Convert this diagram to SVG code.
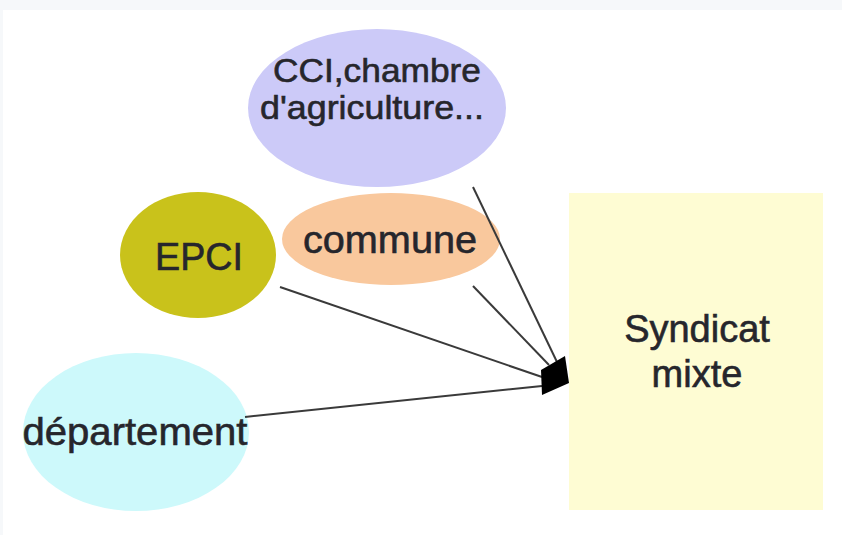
<svg xmlns="http://www.w3.org/2000/svg" width="842" height="535" viewBox="0 0 842 535">
<style>
text{font-family:"Liberation Sans",Arial,sans-serif;fill:#26262c;stroke:#26262c;stroke-width:0.6;text-anchor:middle}
.c{stroke:#3a3a3a;stroke-width:2;fill:none}
</style>
<rect x="0" y="0" width="842" height="535" fill="#ffffff"/>
<rect x="0" y="0" width="842" height="10" fill="#f6f8fa"/>
<rect x="0" y="0" width="3" height="535" fill="#f6f8fa"/>
<g id="syndicat">
<rect x="569" y="193" width="254" height="317" fill="#fefcd3"/>
<text x="697" y="342" font-size="38">Syndicat</text>
<text x="697" y="387" font-size="38">mixte</text>
</g>
<g id="cci">
<ellipse cx="377" cy="108" rx="129" ry="79" fill="#cccaf8"/>
<text x="377" y="82" font-size="34" textLength="208" lengthAdjust="spacingAndGlyphs">CCI,chambre</text>
<text x="372" y="119" font-size="34" textLength="224" lengthAdjust="spacingAndGlyphs">d'agriculture...</text>
</g>
<g id="epci">
<ellipse cx="198" cy="255" rx="78" ry="63" fill="#c9c21b"/>
<text x="199" y="270" font-size="39" textLength="88" lengthAdjust="spacingAndGlyphs">EPCI</text>
</g>
<g id="commune">
<ellipse cx="391" cy="239" rx="109" ry="46" fill="#f9c89d"/>
<text x="390" y="253" font-size="39" textLength="174" lengthAdjust="spacingAndGlyphs">commune</text>
</g>
<g id="departement">
<ellipse cx="136" cy="432" rx="113" ry="79" fill="#cdf9fb"/>
<text x="135" y="445" font-size="39" textLength="225" lengthAdjust="spacingAndGlyphs">département</text>
</g>
<g id="connectors">
<line class="c" x1="473" y1="187" x2="557" y2="362"/>
<line class="c" x1="473" y1="286" x2="549" y2="365"/>
<line class="c" x1="280" y1="287" x2="542" y2="377"/>
<line class="c" x1="245" y1="417" x2="542" y2="386"/>
<polygon points="541,370 565,356 569,383 542,395" fill="#000"/>
</g>
</svg>
